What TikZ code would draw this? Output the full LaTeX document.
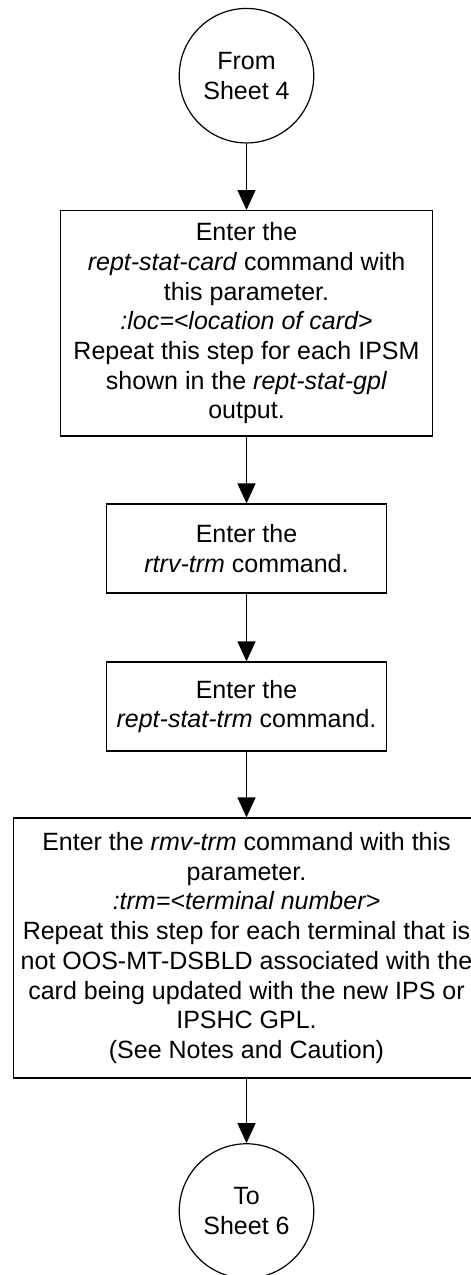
\documentclass[tikz,border=0pt]{standalone}
\usepackage{fontspec}
\setmainfont{Liberation Sans}
\usetikzlibrary{arrows.meta}

\begin{document}
\begin{tikzpicture}[x=1pt,y=-1pt,
  every node/.style={font=\fontsize{25}{29.7}\selectfont, align=center},
  sheet/.style={draw, circle, line width=1.2pt, minimum size=134.5pt, inner sep=0pt},
  stepbox/.style={draw, rectangle, line width=1.2pt, inner sep=0pt},
  flow/.style={-{Triangle[length=20pt,width=18pt]}, line width=1.2pt}]
\useasboundingbox (0,0) rectangle (471,1275);
% connectors to the other sheets
\node[sheet] (fromsheet) at (246.5,75.7) {From\\Sheet 4};
\node[sheet] (tosheet) at (246.5,1211) {To\\Sheet 6};
% steps
\node[stepbox, minimum width=371.6pt, minimum height=225.3pt] (statcard) at (246.5,323.3)
  {Enter the\\\textit{rept-stat-card} command with\\this parameter.\\\textit{:loc=<location of card>}\\Repeat this step for each IPSM\\shown in the \textit{rept-stat-gpl}\\output.};
\node[stepbox, minimum width=280pt, minimum height=89pt] (rtrvtrm) at (246.5,548.5)
  {Enter the\\\textit{rtrv-trm} command.};
\node[stepbox, minimum width=280pt, minimum height=89pt] (stattrm) at (246.5,706.5)
  {Enter the\\\textit{rept-stat-trm} command.};
\node[stepbox, minimum width=466pt, minimum height=260pt] (rmvtrm) at (246.5,948)
  {Enter the \textit{rmv-trm} command with this\\parameter.\\\textit{:trm=<terminal number>}\\Repeat this step for each terminal that is\\not OOS-MT-DSBLD associated with the\\card being updated with the new IPS or\\IPSHC GPL.\\(See Notes and Caution)};
% arrows
\draw[flow] (fromsheet) -- (statcard);
\draw[flow] (statcard) -- (rtrvtrm);
\draw[flow] (rtrvtrm) -- (stattrm);
\draw[flow] (stattrm) -- (rmvtrm);
\draw[flow] (rmvtrm) -- (tosheet);
\end{tikzpicture}
\end{document}
